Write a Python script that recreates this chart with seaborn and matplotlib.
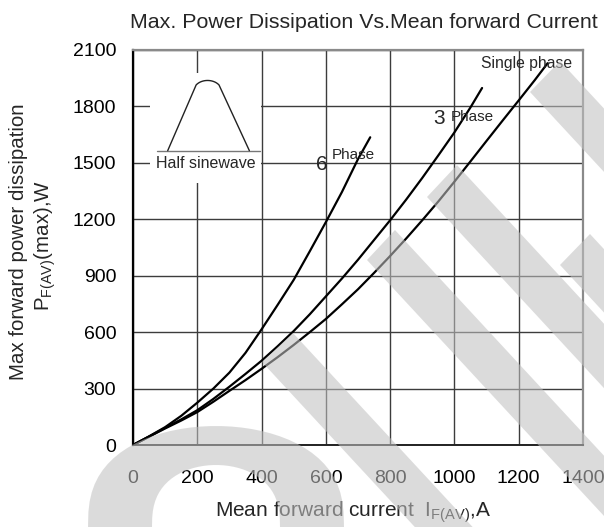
import numpy as np
import pandas as pd
import matplotlib
matplotlib.use("Agg")
import matplotlib.pyplot as plt
from matplotlib.patches import Polygon, Rectangle
import seaborn as sns

# ---- data ----
current_6ph = [0, 50, 100, 150, 200, 250, 300, 350, 400, 450, 500, 550, 600, 650, 700, 738]
power_6ph = [0, 46, 95, 155, 225, 300, 385, 490, 615, 745, 878, 1030, 1185, 1345, 1520, 1636]

current_3ph = [0, 50, 100, 150, 200, 250, 300, 350, 400, 450, 500, 550, 600, 650, 700,
               750, 800, 850, 900, 950, 1000, 1050, 1086]
power_3ph = [0, 45, 91, 136, 185, 245, 310, 378, 448, 525, 606, 695, 790, 885, 985,
             1090, 1195, 1305, 1420, 1540, 1662, 1795, 1898]

current_1ph = [0, 50, 100, 150, 200, 250, 300, 350, 400, 450, 500, 550, 600, 650, 700,
               750, 800, 850, 900, 950, 1000, 1050, 1100, 1150, 1200, 1250, 1290]
power_1ph = [0, 44, 88, 130, 175, 230, 288, 345, 405, 467, 532, 600, 670, 748, 828,
             915, 1005, 1098, 1195, 1295, 1400, 1508, 1617, 1725, 1832, 1940, 2030]

x_ticks = [0, 200, 400, 600, 800, 1000, 1200, 1400]
y_ticks = [0, 300, 600, 900, 1200, 1500, 1800, 2100]

title = "Max. Power Dissipation Vs.Mean forward Current"
xlabel = r"Mean forward current  I$_{\mathrm{F(AV)}}$,A"
ylabel1 = "Max forward power dissipation"
ylabel2 = r"P$_{\mathrm{F(AV)}}$(max),W"

df = pd.concat([
    pd.DataFrame({"current": current_6ph, "power": power_6ph, "series": "6 Phase"}),
    pd.DataFrame({"current": current_3ph, "power": power_3ph, "series": "3 Phase"}),
    pd.DataFrame({"current": current_1ph, "power": power_1ph, "series": "Single phase"}),
])

sns.set_theme(style="white")
plt.rcParams["font.family"] = ["Liberation Sans", "DejaVu Sans"]
plt.rcParams["mathtext.fontset"] = "custom"
plt.rcParams["mathtext.rm"] = "Liberation Sans"
plt.rcParams["mathtext.it"] = "Liberation Sans:italic"
plt.rcParams["mathtext.bf"] = "Liberation Sans:bold"

W, H = 604, 527
fig = plt.figure(figsize=(W / 100, H / 100), dpi=100)
fig.patch.set_facecolor("white")
ax = fig.add_axes([133 / W, 82 / H, 450 / W, 395 / H])

sns.lineplot(data=df, x="current", y="power", hue="series",
             palette=["black", "black", "black"], legend=False,
             linewidth=1.6, ax=ax, zorder=3, sort=True)

ax.set_xlim(0, 1400)
ax.set_ylim(0, 2100)
ax.set_xticks(x_ticks)
ax.set_yticks(y_ticks)
ax.set_xticklabels([str(v) for v in x_ticks])
ax.set_yticklabels([str(v) for v in y_ticks])
ax.tick_params(axis="both", length=0, labelsize=14, colors="black")
ax.tick_params(axis="x", pad=18)
ax.tick_params(axis="y", pad=12)
ax.grid(True, color="#3c3c3c", linewidth=1.0)
ax.set_axisbelow(True)
ax.set_xlabel("")
ax.set_ylabel("")
for side in ["top", "right"]:
    ax.spines[side].set_color("#8a8a8a")
    ax.spines[side].set_linewidth(1.6)
ax.spines["left"].set_color("black")
ax.spines["left"].set_linewidth(1.6)
ax.spines["bottom"].set_color("#222222")
ax.spines["bottom"].set_linewidth(1.4)

# inset: half sinewave
ax.add_patch(Rectangle((53, 1394), 345, 585, facecolor="white", edgecolor="none", zorder=2))
ax.plot([74, 395], [1565, 1565], color="#777777", linewidth=1.0, zorder=2.5)
t = np.linspace(np.pi * 0.80, np.pi * 0.20, 30)
cx, cy, rx, ry = 232, 1880, 44, 58
arc_x = cx + rx * np.cos(t)
arc_y = cy + ry * np.sin(t)
shape_x = np.concatenate([[108], arc_x, [362]])
shape_y = np.concatenate([[1565], arc_y, [1565]])
ax.plot(shape_x, shape_y, color="#222222", linewidth=1.0, zorder=2.5)
ax.text(226, 1495, "Half sinewave", ha="center", va="center", fontsize=11.5, zorder=2.6)

# curve labels
ax.text(587, 1489, "6", ha="center", va="center", fontsize=15, zorder=4)
ax.text(619, 1540, "Phase", ha="left", va="center", fontsize=11, zorder=4)
ax.text(953, 1738, "3", ha="center", va="center", fontsize=15, zorder=4)
ax.text(989, 1745, "Phase", ha="left", va="center", fontsize=11, zorder=4)
ax.text(1083, 2030, "Single phase", ha="left", va="center", fontsize=11.3, zorder=4)

# titles / axis labels
fig.text(364 / W, 1 - 22 / H, title, ha="center", va="center", fontsize=15.4)
fig.text(353 / W, 1 - 512 / H, xlabel, ha="center", va="center", fontsize=15)
fig.text(19 / W, 1 - 242 / H, ylabel1, ha="center", va="center", rotation=90, fontsize=14.8)
fig.text(45 / W, 1 - 245 / H, ylabel2, ha="center", va="center", rotation=90, fontsize=14.8)

# watermark-like grey bands (figure pixel coordinates, y down)
def px(points):
    return [(x / W, 1 - y / H) for x, y in points]

d = np.array([1.0, 1.08])
d = d / np.linalg.norm(d)
L = 700
band_cuts = [((530, 92), (560, 61)), ((427, 197), (457, 165)), ((560, 265), (590, 234)),
             ((367, 260), (395, 230)), ((262, 362), (293, 333))]
wm_color = "#c1c1c1"
for p1, p2 in band_cuts:
    p1 = np.array(p1, float)
    p2 = np.array(p2, float)
    poly = [tuple(p1), tuple(p2), tuple(p2 + d * L), tuple(p1 + d * L)]
    fig.add_artist(Polygon(px(poly), closed=True, transform=fig.transFigure,
                           facecolor=wm_color, edgecolor="none", alpha=0.57, zorder=10))

# arch
ang = np.linspace(np.pi, 0, 40)
outer = [(216 + 128 * np.cos(a), 527 - 101 * np.sin(a) ** 0.75) for a in ang]
inner = [(216 + 64 * np.cos(a), 527 - 62 * np.sin(a) ** 0.75) for a in ang[::-1]]
fig.add_artist(Polygon(px(outer + inner), closed=True, transform=fig.transFigure,
                       facecolor=wm_color, edgecolor="none", alpha=0.57, zorder=10))

fig.savefig("out.png", dpi=100, facecolor="white")
